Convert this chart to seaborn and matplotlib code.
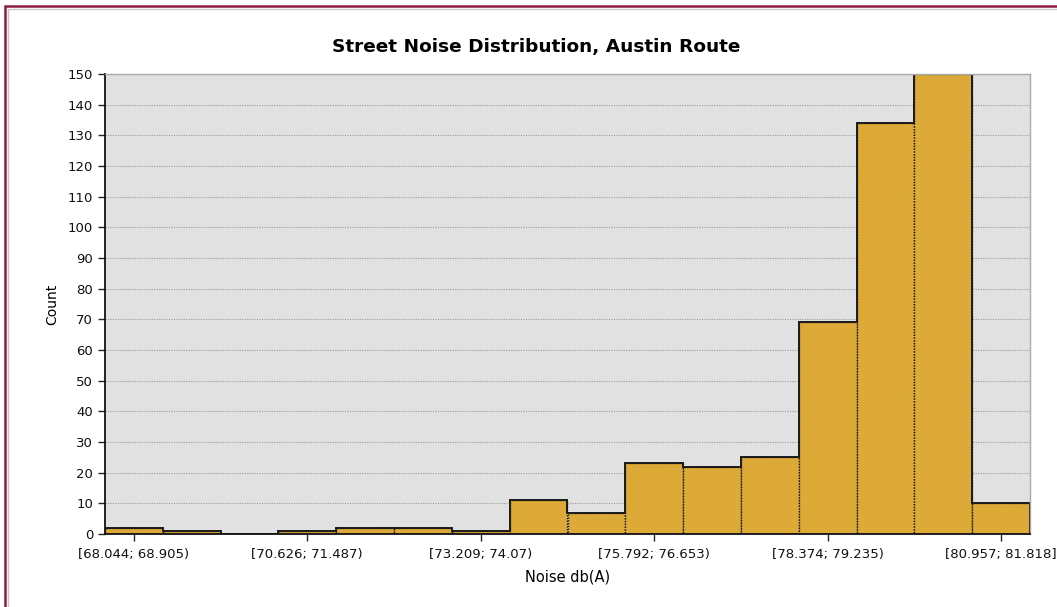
import numpy as np
import pandas as pd
import matplotlib
matplotlib.use("Agg")
import matplotlib.pyplot as plt
import matplotlib.patches as patches
import seaborn as sns

# bins (label values where shown)
bin_edges = [68.044, 68.905, 69.766, 70.626, 71.487, 72.348, 73.209, 74.07, 74.931,
             75.792, 76.653, 77.513, 78.374, 79.235, 80.096, 80.957, 81.818]
counts = [2, 1, 0, 1, 2, 2, 1, 11, 7, 23, 22, 25, 69, 134, 150, 10]
tick_bins = [0, 3, 6, 9, 12, 15]
tick_labels = ["[68.044; 68.905)", "[70.626; 71.487)", "[73.209; 74.07)",
               "[75.792; 76.653)", "[78.374; 79.235)", "[80.957; 81.818]"]

plt.rcParams["font.family"] = ["DejaVu Sans"]

edges = np.array(bin_edges)
centers = (edges[:-1] + edges[1:]) / 2
df = pd.DataFrame({"noise": centers, "count": counts})

W, H = 1057, 607
fig = plt.figure(figsize=(W / 100, H / 100), dpi=100)
ax = fig.add_axes([105 / W, 1 - 534 / H, 925 / W, 460 / H])
ax.set_facecolor("#e1e1e1")

# bars with dotted edges, then solid outer outline
sns.histplot(data=df, x="noise", weights="count", bins=list(bin_edges), ax=ax,
             color="#ddaa38", alpha=1, edgecolor="#111111", linewidth=1,
             linestyle=(0, (1, 1)))
ax.stairs(counts, edges, baseline=0, fill=False, color="#1a1a1a", lw=1.4)

ax.yaxis.grid(True, color="#9c9c9c", linestyle=(0, (1, 1.2)), linewidth=0.8)
ax.xaxis.grid(False)
ax.set_axisbelow(True)

ax.set_xlim(edges[0], edges[-1])
ax.set_ylim(0, 150)
ax.set_yticks(range(0, 151, 10))
ax.set_xticks(centers[tick_bins])
ax.set_xticklabels(tick_labels)
ax.tick_params(direction="out", length=5, width=1, color="#222222", labelsize=9.5,
               labelcolor="#111111")
ax.tick_params(axis="x", pad=5)

for s in ["left", "bottom"]:
    ax.spines[s].set_color("#111111")
    ax.spines[s].set_linewidth(1.3)
for s in ["top", "right"]:
    ax.spines[s].set_color("#aaaaaa")
    ax.spines[s].set_linewidth(1)

ax.set_xlabel("Noise db(A)", fontsize=10.5, labelpad=6)
ax.set_ylabel("Count", fontsize=10, labelpad=6)

fig.text(536 / W, 1 - 47 / H, "Street Noise Distribution, Austin Route",
         ha="center", va="center", fontsize=13.3, fontweight="bold")

# outer frame (only top and left edges visible)
fig.patches.append(patches.Rectangle((5 / W, -0.1), 1.5, 1.1 - 6 / H, transform=fig.transFigure,
                                     fill=False, edgecolor="#8c1d3f", linewidth=1.8))
fig.patches.append(patches.Rectangle((7.5 / W, -0.1), 1.5, 1.1 - 8.5 / H, transform=fig.transFigure,
                                     fill=False, edgecolor="#c8c8c8", linewidth=1))

fig.savefig("out.png", dpi=100)
